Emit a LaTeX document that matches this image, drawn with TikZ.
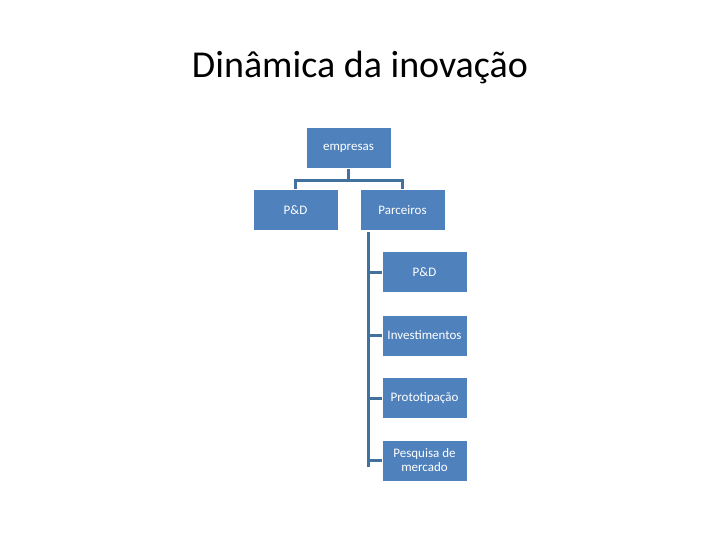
\documentclass[tikz,border=0pt]{standalone}
\usepackage{fontspec}
\setmainfont{Carlito}
\definecolor{boxc}{HTML}{4F81BD}
\definecolor{linec}{HTML}{41719C}
\begin{document}
\begin{tikzpicture}[x=1pt,y=-1pt,
  bx/.style={draw=white,line width=1pt,fill=boxc,text=white,minimum width=85pt,minimum height=41pt,inner sep=1pt,align=center,font=\fontsize{13}{14}\selectfont},
  cn/.style={draw=linec,line width=3pt}]
\useasboundingbox (0,0) rectangle (720,540);
\node[font=\fontsize{38}{40}\selectfont] (t) at (360,68) {Dinâmica da inovação};
\node[bx] (e) at (348.5,148) {empresas};
\node[bx] (a) at (295.5,210.5) {P\&D};
\node[bx] (p) at (402.5,210.5) {Parceiros};
\node[bx] (c1) at (424.5,272) {P\&D};
\node[bx] (c2) at (424.5,335.5) {Investimentos};
\node[bx] (c3) at (424.5,398) {Prototipação};
\node[bx] (c4) at (424.5,460.5) {Pesquisa de\\mercado};
\coordinate (v0) at (368,232);
\coordinate (v1) at (368,467);
\draw[cn] (e.south) -- ++(0,12) coordinate (m);
\draw[cn] (a.north) -- (a.north |- m) -- (p.north |- m) -- (p.north);
\draw[cn] (v0) -- (v1);
\foreach \c in {c1,c2,c3,c4} \draw[cn] (v0 |- \c.west) -- (\c.west);
\end{tikzpicture}
\end{document}
